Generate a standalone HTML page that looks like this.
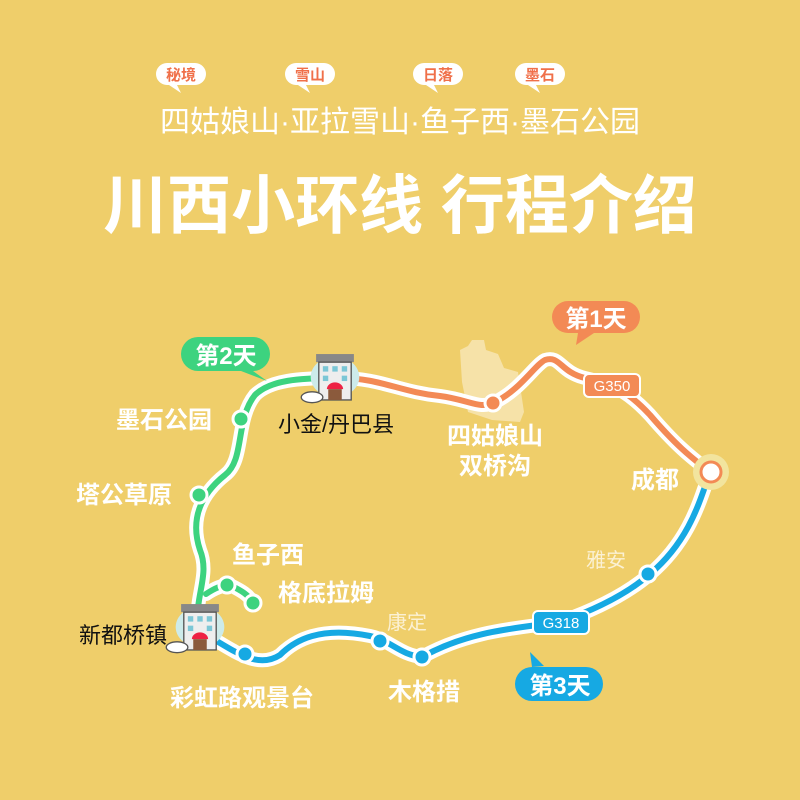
<!DOCTYPE html>
<html><head><meta charset="utf-8"><style>
body{margin:0;background:#EFCE6A;}
svg{display:block}
text{font-family:"Liberation Sans","Noto Sans CJK SC",sans-serif}
</style></head><body>
<svg width="800" height="800" viewBox="0 0 800 800">
<rect width="800" height="800" fill="#EFCE6A"/>
<!-- tag bubbles -->
<g font-size="15" font-weight="bold" fill="#F0704A" text-anchor="middle">
<path d="M167 63h28a11 11 0 0 1 0 22h-18l4 8-12-8h-2a11 11 0 0 1 0-22z" fill="#fff"/><text x="181" y="80">秘境</text>
<path d="M296 63h28a11 11 0 0 1 0 22h-18l4 8-12-8h-2a11 11 0 0 1 0-22z" fill="#fff"/><text x="310" y="80">雪山</text>
<path d="M424 63h28a11 11 0 0 1 0 22h-18l4 8-12-8h-2a11 11 0 0 1 0-22z" fill="#fff"/><text x="438" y="80">日落</text>
<path d="M526 63h28a11 11 0 0 1 0 22h-18l4 8-12-8h-2a11 11 0 0 1 0-22z" fill="#fff"/><text x="540" y="80">墨石</text>
</g>
<text x="400" y="132" font-size="30" fill="#fff" text-anchor="middle" textLength="480" lengthAdjust="spacingAndGlyphs">四姑娘山·亚拉雪山·鱼子西·墨石公园</text>
<text x="400" y="228" font-size="64" font-weight="bold" fill="#fff" text-anchor="middle">川西小环线 行程介绍</text>
<!-- mountain area -->
<path d="M460 350l8-4 4-6 12 0 2 10 12 4 6 14 14 4 6 40-4 10-28-2-24-8-6-30z" fill="#F6E2A8"/>
<!-- routes: white casing -->
<g fill="none" stroke="white" stroke-opacity="1" stroke-width="14" stroke-linecap="round" stroke-linejoin="round">
<path d="M340 378C380 378 400 392 440 396C470 400 480 410 495 402C520 390 535 365 545 360C560 355 560 372 585 378C610 384 625 388 650 415C680 450 695 460 710 472"/>
<path d="M335 378C300 378 270 380 255 395C235 420 245 460 225 475C200 495 190 520 200 550C210 575 195 595 198 625"/>
<path d="M206 594C215 588 222 585 230 585C240 590 250 595 253 604"/>
<path d="M710 472C700 500 690 540 650 574C620 600 580 615 560 622C520 628 470 630 422 657C400 655 390 640 370 636C320 626 295 640 280 655C260 668 240 655 215 640"/>
</g>
<g fill="none" stroke-width="6" stroke-linecap="round" stroke-linejoin="round">
<path stroke="#F38A55" d="M340 378C380 378 400 392 440 396C470 400 480 410 495 402C520 390 535 365 545 360C560 355 560 372 585 378C610 384 625 388 650 415C680 450 695 460 710 472"/>
<path stroke="#3DD37F" d="M335 378C300 378 270 380 255 395C235 420 245 460 225 475C200 495 190 520 200 550C210 575 195 595 198 625"/>
<path stroke="#3DD37F" d="M206 594C215 588 222 585 230 585C240 590 250 595 253 604"/>
<path stroke="#16A9E3" d="M710 472C700 500 690 540 650 574C620 600 580 615 560 622C520 628 470 630 422 657C400 655 390 640 370 636C320 626 295 640 280 655C260 668 240 655 215 640"/>
</g>
<!-- dots -->
<g stroke="#fff" stroke-width="3">
<circle cx="493" cy="403" r="8" fill="#F38A55"/>
<circle cx="241" cy="419" r="8" fill="#3DD37F"/>
<circle cx="199" cy="495" r="8" fill="#3DD37F"/>
<circle cx="227" cy="585" r="8" fill="#3DD37F"/>
<circle cx="253" cy="603" r="8" fill="#3DD37F"/>
<circle cx="245" cy="654" r="8" fill="#16A9E3"/>
<circle cx="380" cy="641" r="8" fill="#16A9E3"/>
<circle cx="422" cy="657" r="8" fill="#16A9E3"/>
<circle cx="648" cy="574" r="8" fill="#16A9E3"/>
</g>
<circle cx="711" cy="472" r="18" fill="#F2E49E"/>
<circle cx="711" cy="472" r="10" fill="#fff" stroke="#F38A55" stroke-width="3"/>
<!-- road badges -->
<rect x="584" y="374" width="56" height="23" rx="5" fill="#F38A55" stroke="#fff" stroke-width="2"/>
<text x="612" y="391" font-size="15" fill="#fff" text-anchor="middle">G350</text>
<rect x="533" y="611" width="56" height="23" rx="5" fill="#16A9E3" stroke="#fff" stroke-width="2"/>
<text x="561" y="628" font-size="15" fill="#fff" text-anchor="middle">G318</text>
<!-- day bubbles -->
<path d="M568 301h56a16 16 0 0 1 0 32h-30l-18 12 2-12h-10a16 16 0 0 1 0-32z" fill="#F38A55"/>
<text x="596" y="327" font-size="24" font-weight="bold" fill="#fff" text-anchor="middle">第1天</text>
<path d="M198 337h55a17 17 0 0 1 0 34l14 10-26-10h-43a17 17 0 0 1 0-34z" fill="#3DD37F"/>
<text x="226" y="364" font-size="24" font-weight="bold" fill="#fff" text-anchor="middle">第2天</text>
<path d="M532 667h54a17 17 0 0 1 0 34h-54a17 17 0 0 1 0-34l-2-15 14 14z" fill="#16A9E3"/>
<text x="560" y="694" font-size="24" font-weight="bold" fill="#fff" text-anchor="middle">第3天</text>
<!-- hotels -->
<g transform="translate(335 377) scale(1.35) translate(-335 -377)">
<g id="h">
<ellipse cx="335" cy="377" rx="18" ry="15" fill="#CDEBEA"/>
<rect x="321" y="360" width="28" height="6" fill="#888"/>
<rect x="323" y="366" width="24" height="28" fill="#EEE" stroke="#555" stroke-width="1"/>
<g fill="#7CC7D6"><rect x="326" y="369" width="4" height="4"/><rect x="333" y="369" width="4" height="4"/><rect x="340" y="369" width="4" height="4"/><rect x="326" y="376" width="4" height="4"/><rect x="340" y="376" width="4" height="4"/></g>
<path d="M329 386a6 5 0 0 1 12 0z" fill="#E24"/>
<rect x="330" y="386" width="10" height="8" fill="#8B5A3C"/>
<ellipse cx="318" cy="392" rx="8" ry="4" fill="#fff" stroke="#555" stroke-width="1"/>
</g></g>
<g transform="translate(200 627) scale(1.35) translate(-335 -377)"><use href="#h"/></g>
<!-- labels -->
<g font-size="24" font-weight="bold" fill="#fff" text-anchor="middle">
<text x="164" y="428">墨石公园</text>
<text x="124" y="503">塔公草原</text>
<text x="268" y="563">鱼子西</text>
<text x="326" y="601">格底拉姆</text>
<text x="242" y="706">彩虹路观景台</text>
<text x="424" y="700">木格措</text>
<text x="495" y="444">四姑娘山</text>
<text x="495" y="474">双桥沟</text>
<text x="655" y="488">成都</text>
</g>
<g font-size="22" fill="#111">
<text x="278" y="432">小金/丹巴县</text>
<text x="79" y="643">新都桥镇</text>
</g>
<g font-size="20" fill="#FBF1D4">
<text x="387" y="629">康定</text>
<text x="586" y="567">雅安</text>
</g>
</svg>
</body></html>
